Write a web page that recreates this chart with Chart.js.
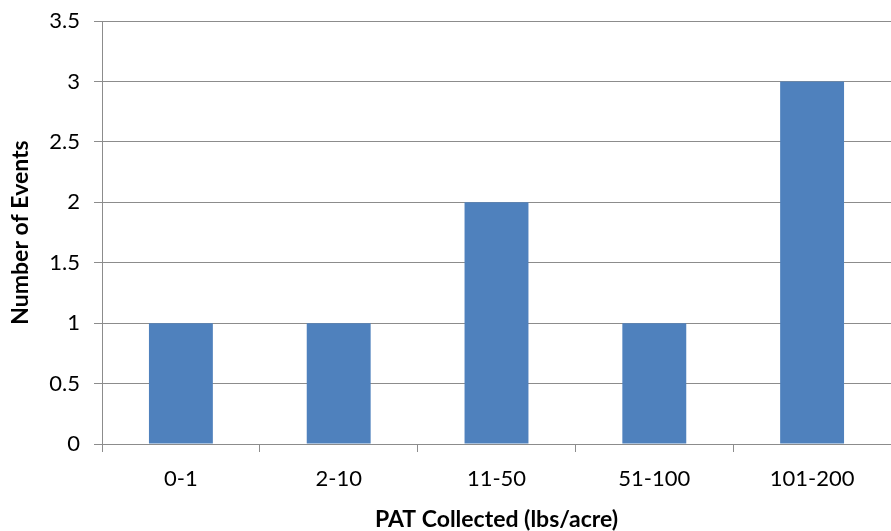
<!DOCTYPE html>
<html>
<head>
<meta charset="utf-8">
<script src="https://cdn.jsdelivr.net/npm/chart.js@4/dist/chart.umd.min.js"></script>
<style>
html,body{margin:0;padding:0;background:#fff;}
#wrap{width:891px;height:531px;position:relative;}
</style>
</head>
<body>
<div id="wrap"><canvas id="c" width="891" height="531"></canvas></div>
<script>
const categories = ["0-1", "2-10", "11-50", "51-100", "101-200"];
const events = [1, 1, 2, 1, 3];
const yTicks = [0, 0.5, 1, 1.5, 2, 2.5, 3, 3.5];
const xTitle = "PAT Collected (lbs/acre)";
const yTitle = "Number of Events";

const FONT = "Lato, 'Open Sans', sans-serif";
const GRID = "#8c8c8c";

new Chart(document.getElementById('c'), {
  type: 'bar',
  data: {
    labels: categories,
    datasets: [{
      data: events,
      backgroundColor: '#4F81BD',
      borderWidth: 0,
      categoryPercentage: 1,
      barPercentage: 0.405
    }]
  },
  options: {
    responsive: false,
    animation: false,
    layout: { padding: { top: 21, right: 0, left: 0, bottom: 0 } },
    plugins: { legend: { display: false }, tooltip: { enabled: false } },
    scales: {
      x: {
        grid: { offset: true, drawOnChartArea: false, tickLength: 8, color: GRID, lineWidth: 1 },
        border: { color: GRID, width: 1 },
        ticks: { color: '#000', font: { family: FONT, size: 22 }, padding: 14, maxRotation: 0 },
        title: { display: true, text: xTitle, color: '#000', font: { family: FONT, size: 23, weight: 'bold', lineHeight: 1 }, padding: { top: 0, bottom: 0 } },
        afterFit: s => { s.height = 87; s.paddingLeft = 0; s.paddingRight = 0; }
      },
      y: {
        min: 0, max: 3.5,
        afterBuildTicks: s => { s.ticks = yTicks.map(v => ({ value: v })); },
        grid: { tickLength: 8, color: GRID, lineWidth: 1 },
        border: { color: GRID, width: 1 },
        ticks: { color: '#000', font: { family: FONT, size: 22 }, padding: 14, callback: v => String(v) },
        title: { display: true, text: yTitle, color: '#000', font: { family: FONT, size: 23, weight: 'bold', lineHeight: 1 }, padding: { top: 9, bottom: 0 } },
        afterFit: s => { s.width = 102; s.paddingTop = 0; s.paddingBottom = 0; }
      }
    }
  }
});
</script>
</body>
</html>
